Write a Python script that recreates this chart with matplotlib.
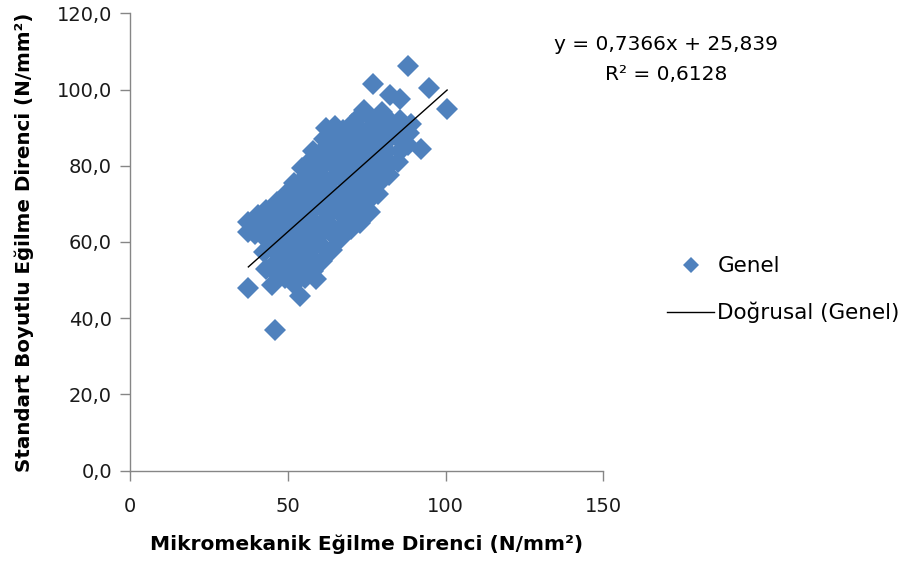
import numpy as np
import matplotlib.pyplot as plt
from matplotlib.lines import Line2D

plt.rcParams['font.family'] = ['DejaVu Sans']

# Mikromekanik (x) vs standart boyutlu (y) egilme direnci
mikro = [
    37.5, 37.5, 37.5, 45.8, 45.0, 53.8, 59.0, 88.0, 77.0, 82.5, 85.5, 94.7, 100.5, 92.2, 74.0, 65.0,
    39.5, 41.0, 40.5,
    43.0, 42.5, 43.5, 43.0, 44.0, 43.0,
    46.0, 46.5, 45.5, 46.0, 47.0, 46.0, 46.5,
    49.0, 48.5, 49.5, 49.0, 50.0, 48.5, 49.0, 50.0,
    52.0, 52.5, 51.5, 52.0, 53.0, 52.0, 51.5, 52.5, 52.0,
    55.5, 55.0, 54.5, 55.5, 55.0, 56.0, 54.5, 55.0, 55.5, 54.5,
    58.0, 57.5, 58.5, 58.0, 57.0, 58.5, 58.0, 57.5, 58.5, 57.5, 58.0,
    61.0, 61.5, 60.5, 61.0, 62.0, 60.5, 61.5, 60.5, 61.5, 60.5, 61.5, 62.0,
    64.0, 64.5, 63.5, 64.0, 65.0, 63.5, 64.5, 64.0, 63.5, 64.5, 64.5,
    67.0, 67.5, 66.5, 67.0, 68.0, 66.5, 67.5, 67.0, 66.5, 67.5,
    70.0, 70.5, 69.5, 70.0, 71.0, 69.5, 70.5, 70.0, 69.5, 70.5,
    73.0, 73.5, 72.5, 73.0, 74.0, 72.5, 73.5, 73.0, 72.5, 73.0,
    76.0, 76.5, 75.5, 76.0, 77.0, 75.5, 76.5, 76.0, 76.5,
    78.5, 79.5, 79.0, 80.0, 78.5, 79.5, 79.0, 80.0,
    82.0, 82.5, 81.5, 82.0, 83.0, 81.5,
    85.0, 85.5, 84.5, 85.0, 85.5,
    88.0, 88.5, 89.0,
]
standart = [
    62.5, 65.2, 48.0, 36.9, 48.8, 45.8, 50.2, 106.2, 101.5, 98.5, 97.5, 100.5, 95.0, 84.5, 94.5, 90.5,
    62.0, 64.5, 67.0,
    53.0, 57.5, 60.5, 63.5, 66.5, 68.5,
    52.0, 55.0, 58.0, 61.5, 64.0, 67.0, 70.5,
    50.5, 54.0, 57.0, 60.0, 63.0, 66.0, 69.5, 73.0,
    49.0, 53.0, 56.5, 59.5, 62.0, 65.5, 68.0, 71.5, 75.5,
    50.5, 54.0, 58.0, 61.0, 64.5, 67.0, 70.0, 73.5, 77.0, 79.5,
    52.5, 56.0, 59.0, 62.5, 66.0, 69.0, 72.0, 75.5, 78.5, 81.5, 84.0,
    55.0, 58.5, 62.0, 65.0, 68.0, 71.0, 74.5, 77.5, 80.5, 83.5, 87.0, 90.0,
    58.0, 61.5, 64.5, 68.0, 71.0, 74.0, 77.0, 80.5, 84.0, 86.5, 89.5,
    61.0, 64.5, 67.5, 71.0, 74.0, 77.0, 80.0, 83.5, 86.5, 89.5,
    63.5, 66.5, 70.0, 73.0, 76.0, 79.0, 82.5, 85.5, 88.5, 91.0,
    65.0, 68.5, 72.0, 75.0, 78.0, 81.0, 84.0, 87.5, 90.0, 93.0,
    68.0, 71.5, 74.5, 78.0, 81.0, 84.0, 87.0, 90.0, 92.5,
    72.5, 76.0, 79.5, 82.5, 85.5, 88.5, 91.5, 94.0,
    77.5, 80.5, 84.0, 87.0, 90.0, 92.5,
    81.0, 84.0, 87.5, 90.0, 92.0,
    85.5, 88.5, 91.0,
]

# Excel linear trendline
egim = 0.7366
kesisim = 25.839
r_kare = 0.6128

x_ticks = [0, 50, 100, 150]
y_ticks = [0, 20, 40, 60, 80, 100, 120]

mavi = '#4F81BD'
gri = '#868686'

fig = plt.figure(figsize=(9.03, 5.66), dpi=100)
ax = fig.add_axes([0.144, 0.1684, 0.5241, 0.8081])

ax.plot(mikro, standart, linestyle='none', marker='D', markersize=11,
        color=mavi, markeredgewidth=0, zorder=2)

xs = np.array([min(mikro), max(mikro)])
ax.plot(xs, egim * xs + kesisim, color='black', linewidth=1, zorder=3)

ax.set_xlim(0, 150)
ax.set_ylim(0, 120)
ax.set_xticks(x_ticks)
ax.set_yticks(y_ticks)
ax.set_xticklabels([str(t) for t in x_ticks])
ax.set_yticklabels([f'{t:.1f}'.replace('.', ',') for t in y_ticks])

for s in ['top', 'right']:
    ax.spines[s].set_visible(False)
for s in ['left', 'bottom']:
    ax.spines[s].set_color(gri)
    ax.spines[s].set_linewidth(1)
ax.tick_params(direction='out', length=7, width=1, color=gri,
               labelsize=14, labelcolor='#1a1a1a', pad=6)
ax.tick_params(axis='x', pad=12)

ax.set_xlabel('Mikromekanik Eğilme Direnci (N/mm²)', fontsize=14.5,
              fontweight='bold', labelpad=13)
ax.set_ylabel('Standart Boyutlu Eğilme Direnci (N/mm²)', fontsize=14.3,
              fontweight='bold', labelpad=16)

fig.text(0.738, 0.922, f'y = {egim}x + {kesisim}'.replace('.', ','),
         fontsize=14.5, ha='center', va='center')
fig.text(0.738, 0.868, 'R² = ' + f'{r_kare}'.replace('.', ','),
         fontsize=14.5, ha='center', va='center')

handles = [
    Line2D([], [], linestyle='none', marker='D', markersize=8.5,
           color=mavi, markeredgewidth=0),
    Line2D([], [], color='black', linewidth=1),
]
fig.legend(handles, ['Genel', 'Doğrusal (Genel)'], loc='center left',
           bbox_to_anchor=(0.717, 0.488), frameon=False, fontsize=15.5,
           handlelength=2.2, handletextpad=0.15, labelspacing=1.2)

fig.savefig('out.png', dpi=100)
